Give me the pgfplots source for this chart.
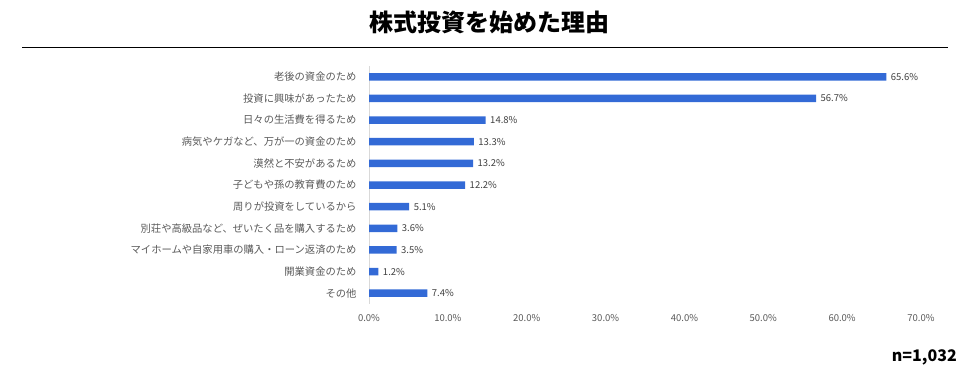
\documentclass[border=0pt]{standalone}
\usepackage{pgfplots}
\pgfplotsset{compat=1.18}
\usepackage{fontspec}
\setmainfont{Noto Sans CJK JP}
\definecolor{barblue}{RGB}{51,106,214}
\definecolor{lblgray}{RGB}{89,89,89}
\definecolor{valgray}{RGB}{64,64,64}
\begin{document}
\begin{tikzpicture}
\useasboundingbox (0,0) rectangle (979pt,383pt);
\node[font=\fontsize{24}{26}\selectfont\bfseries] at (489pt,361pt) {株式投資を始めた理由};
\draw[line width=1pt] (22pt,335pt) -- (948pt,335pt);
\node[anchor=east,inner sep=0pt,font=\fontsize{16}{18}\selectfont\bfseries] at (957pt,26pt) {n=1,032};
\begin{axis}[
  at={(369pt,79pt)}, anchor=south west,
  scale only axis, width=552pt, height=238pt,
  xmin=0, xmax=70, ymin=-0.5, ymax=10.5, y dir=reverse,
  xbar, bar width=7.5pt,
  axis x line*=bottom, x axis line style={draw=none},
  axis y line*=left, y axis line style={draw=gray!30},
  major tick length=0pt,
  xtick={0,10,20,30,40,50,60,70},
  xticklabels={0.0\%,10.0\%,20.0\%,30.0\%,40.0\%,50.0\%,60.0\%,70.0\%},
  xticklabel style={font=\fontsize{9.5}{11}\selectfont, text=lblgray, yshift=-7pt},
  ytick={0,...,10},
  yticklabels={老後の資金のため,投資に興味があったため,日々の生活費を得るため,病気やケガなど、万が一の資金のため,漠然と不安があるため,子どもや孫の教育費のため,周りが投資をしているから,別荘や高級品など、ぜいたく品を購入するため,マイホームや自家用車の購入・ローン返済のため,開業資金のため,その他},
  yticklabel style={font=\fontsize{10.3}{12}\selectfont, text=lblgray, xshift=-9pt},
  /pgf/number format/assume math mode=true,
  nodes near coords={\pgfmathprintnumber[fixed,fixed zerofill,precision=1]{\pgfplotspointmeta}\%},
  every node near coord/.append style={font=\fontsize{9.5}{11}\selectfont, text=valgray, xshift=1pt},
]
\addplot[fill=barblue, draw=none] coordinates {
(65.6,0) (56.7,1) (14.8,2) (13.3,3) (13.2,4) (12.2,5) (5.1,6) (3.6,7) (3.5,8) (1.2,9) (7.4,10)};
\end{axis}
\end{tikzpicture}
\end{document}
